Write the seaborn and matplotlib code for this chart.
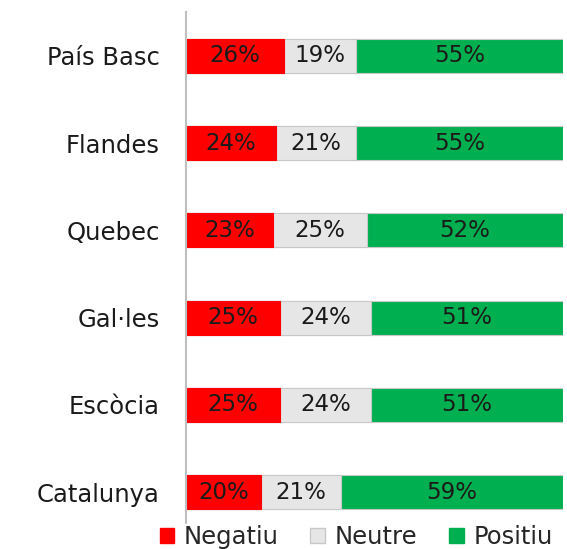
import numpy as np
import pandas as pd
import matplotlib
matplotlib.use("Agg")
import matplotlib.pyplot as plt
from matplotlib.patches import Patch
import seaborn as sns

# Data
regions = ["País Basc", "Flandes", "Quebec", "Gal·les", "Escòcia", "Catalunya"]
negatiu = [26, 24, 23, 25, 25, 20]
neutre = [19, 21, 25, 24, 24, 21]
positiu = [55, 55, 52, 51, 51, 59]
series_names = ["Negatiu", "Neutre", "Positiu"]

red = "#FF0000"
grey = "#E6E6E6"
green = "#00B050"
edge = "#C8C8C8"

sns.set_theme(style="white")
plt.rcParams["font.family"] = ["DejaVu Sans"]

df = pd.DataFrame({"regio": regions, "neg": negatiu, "neu": neutre, "pos": positiu})
df["c1"] = df["neg"]
df["c2"] = df["neg"] + df["neu"]
df["c3"] = df["c2"] + df["pos"]

fig = plt.figure(figsize=(5.67, 5.49), dpi=100)
ax = fig.add_axes([0.328, 0.024, 0.665, 0.954])

# stacked bars: draw the cumulative totals from back to front
bw = 0.39
sns.barplot(data=df, y="regio", x="c3", order=regions, color=green, orient="h",
            width=bw, edgecolor=edge, linewidth=0.8, saturation=1, ax=ax)
sns.barplot(data=df, y="regio", x="c2", order=regions, color=grey, orient="h",
            width=bw, edgecolor=edge, linewidth=0.8, saturation=1, ax=ax)
sns.barplot(data=df, y="regio", x="c1", order=regions, color=red, orient="h",
            width=bw, edgecolor=red, linewidth=0.8, saturation=1, ax=ax)

# percentage labels centred in each segment
for i, row in df.iterrows():
    starts = [0, row["c1"], row["c2"]]
    vals = [row["neg"], row["neu"], row["pos"]]
    for s, v in zip(starts, vals):
        ax.text(s + v / 2, i, f"{v}%", ha="center", va="center",
                fontsize=16.5, color="#1a1a1a")

ax.set_xlim(0, 100)
ax.set_ylim(5.5, -0.5)
ax.set_xlabel("")
ax.set_ylabel("")
ax.set_xticks([])
ax.tick_params(axis="y", length=0, pad=19, labelsize=17.5, labelcolor="#1a1a1a")
for side in ["top", "right", "bottom"]:
    ax.spines[side].set_visible(False)
ax.spines["left"].set_color("#BFBFBF")
ax.spines["left"].set_linewidth(1.5)

handles = [Patch(facecolor=red, edgecolor=red),
           Patch(facecolor=grey, edgecolor=edge),
           Patch(facecolor=green, edgecolor=green)]
leg = fig.legend(handles, series_names, loc="center", bbox_to_anchor=(0.628, 0.022),
                 ncol=3, frameon=True, fontsize=17.5, handlelength=0.6, handleheight=0.6,
                 handletextpad=0.4, columnspacing=1.3, borderpad=0.05)
leg.get_frame().set_facecolor("white")
leg.get_frame().set_edgecolor("white")
leg.get_frame().set_alpha(1)

fig.savefig("out.png", dpi=100)
